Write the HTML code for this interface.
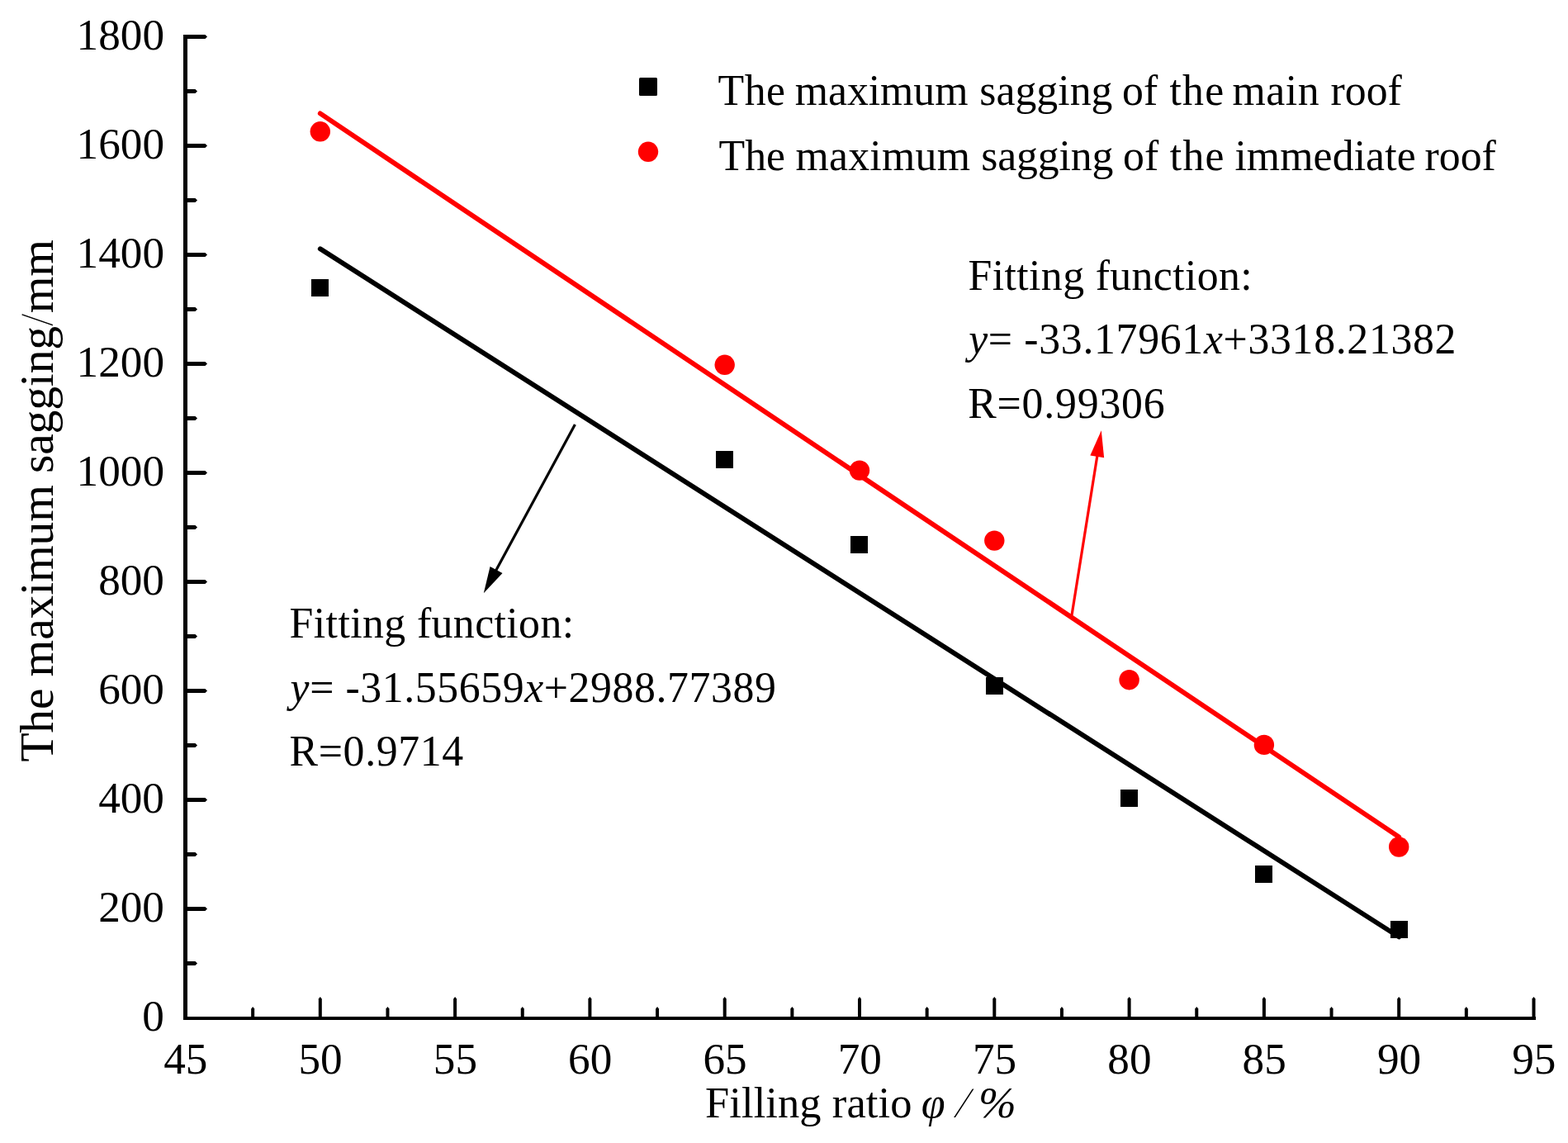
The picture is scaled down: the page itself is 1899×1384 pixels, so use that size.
<!DOCTYPE html>
<html><head><meta charset="utf-8"><title>Filling ratio vs maximum sagging</title><style>
html,body{margin:0;padding:0;background:#fff;width:1899px;height:1384px;overflow:hidden}
svg{display:block}
text{font-family:"Liberation Serif","Times New Roman",serif;fill:#000}
.tk text{font-size:51.8px}
.i{font-style:italic}
.sl{stroke:#fff;stroke-width:1.1px}
</style></head><body>
<svg width="1899" height="1384" viewBox="0 0 1899 1384">
<rect width="1899" height="1384" fill="#fff"/>
<rect x="377" y="338" width="21" height="21" fill="#000"/>
<rect x="867" y="546" width="21" height="21" fill="#000"/>
<rect x="1030" y="649" width="21" height="21" fill="#000"/>
<rect x="1194" y="820" width="21" height="21" fill="#000"/>
<rect x="1357" y="956" width="21" height="21" fill="#000"/>
<rect x="1520" y="1048" width="21" height="21" fill="#000"/>
<rect x="1684" y="1115" width="21" height="21" fill="#000"/>
<circle cx="387.80" cy="159.30" r="12.2" fill="#ff0000"/>
<circle cx="877.70" cy="441.80" r="12.2" fill="#ff0000"/>
<circle cx="1041.00" cy="569.60" r="12.2" fill="#ff0000"/>
<circle cx="1204.30" cy="654.60" r="12.2" fill="#ff0000"/>
<circle cx="1367.60" cy="823.20" r="12.2" fill="#ff0000"/>
<circle cx="1530.90" cy="901.90" r="12.2" fill="#ff0000"/>
<circle cx="1694.20" cy="1025.50" r="12.2" fill="#ff0000"/>
<line x1="387.80" y1="137.41" x2="1694.20" y2="1013.35" stroke="#ff0000" stroke-width="5.9" stroke-linecap="round"/>
<line x1="387.80" y1="301.28" x2="1694.20" y2="1134.37" stroke="#000" stroke-width="5.9" stroke-linecap="round"/>
<line x1="696.40" y1="514.10" x2="600.09" y2="691.82" stroke="#000" stroke-width="3.2"/><polygon points="585.80,718.20 593.57,686.02 608.52,694.12" fill="#000"/>
<line x1="1298.00" y1="745.00" x2="1329.06" y2="550.82" stroke="#ff0000" stroke-width="3.2"/><polygon points="1333.80,521.20 1337.14,554.14 1320.35,551.46" fill="#ff0000"/>
<rect x="222" y="42" width="5" height="1193" fill="#000"/>
<rect x="222" y="1231" width="1638" height="4" fill="#000"/>
<polygon points="227,1164.00 236.5,1164.00 239,1166.50 236.5,1169.00 227,1169.00" fill="#000"/>
<polygon points="227,1098.00 248.5,1098.00 251,1100.50 248.5,1103.00 227,1103.00" fill="#000"/>
<polygon points="227,1032.00 236.5,1032.00 239,1034.50 236.5,1037.00 227,1037.00" fill="#000"/>
<polygon points="227,966.00 248.5,966.00 251,968.50 248.5,971.00 227,971.00" fill="#000"/>
<polygon points="227,900.00 236.5,900.00 239,902.50 236.5,905.00 227,905.00" fill="#000"/>
<polygon points="227,834.00 248.5,834.00 251,836.50 248.5,839.00 227,839.00" fill="#000"/>
<polygon points="227,768.00 236.5,768.00 239,770.50 236.5,773.00 227,773.00" fill="#000"/>
<polygon points="227,702.00 248.5,702.00 251,704.50 248.5,707.00 227,707.00" fill="#000"/>
<polygon points="227,636.00 236.5,636.00 239,638.50 236.5,641.00 227,641.00" fill="#000"/>
<polygon points="227,570.00 248.5,570.00 251,572.50 248.5,575.00 227,575.00" fill="#000"/>
<polygon points="227,504.00 236.5,504.00 239,506.50 236.5,509.00 227,509.00" fill="#000"/>
<polygon points="227,438.00 248.5,438.00 251,440.50 248.5,443.00 227,443.00" fill="#000"/>
<polygon points="227,372.00 236.5,372.00 239,374.50 236.5,377.00 227,377.00" fill="#000"/>
<polygon points="227,306.00 248.5,306.00 251,308.50 248.5,311.00 227,311.00" fill="#000"/>
<polygon points="227,240.00 236.5,240.00 239,242.50 236.5,245.00 227,245.00" fill="#000"/>
<polygon points="227,174.00 248.5,174.00 251,176.50 248.5,179.00 227,179.00" fill="#000"/>
<polygon points="227,108.00 236.5,108.00 239,110.50 236.5,113.00 227,113.00" fill="#000"/>
<polygon points="227,42.00 248.5,42.00 251,44.50 248.5,47.00 227,47.00" fill="#000"/>
<polygon points="304.15,1231 304.15,1221.5 306.15,1219 308.15,1221.5 308.15,1231" fill="#000"/>
<polygon points="385.80,1231 385.80,1209.5 387.80,1207 389.80,1209.5 389.80,1231" fill="#000"/>
<polygon points="467.45,1231 467.45,1221.5 469.45,1219 471.45,1221.5 471.45,1231" fill="#000"/>
<polygon points="549.10,1231 549.10,1209.5 551.10,1207 553.10,1209.5 553.10,1231" fill="#000"/>
<polygon points="630.75,1231 630.75,1221.5 632.75,1219 634.75,1221.5 634.75,1231" fill="#000"/>
<polygon points="712.40,1231 712.40,1209.5 714.40,1207 716.40,1209.5 716.40,1231" fill="#000"/>
<polygon points="794.05,1231 794.05,1221.5 796.05,1219 798.05,1221.5 798.05,1231" fill="#000"/>
<polygon points="875.70,1231 875.70,1209.5 877.70,1207 879.70,1209.5 879.70,1231" fill="#000"/>
<polygon points="957.35,1231 957.35,1221.5 959.35,1219 961.35,1221.5 961.35,1231" fill="#000"/>
<polygon points="1039.00,1231 1039.00,1209.5 1041.00,1207 1043.00,1209.5 1043.00,1231" fill="#000"/>
<polygon points="1120.65,1231 1120.65,1221.5 1122.65,1219 1124.65,1221.5 1124.65,1231" fill="#000"/>
<polygon points="1202.30,1231 1202.30,1209.5 1204.30,1207 1206.30,1209.5 1206.30,1231" fill="#000"/>
<polygon points="1283.95,1231 1283.95,1221.5 1285.95,1219 1287.95,1221.5 1287.95,1231" fill="#000"/>
<polygon points="1365.60,1231 1365.60,1209.5 1367.60,1207 1369.60,1209.5 1369.60,1231" fill="#000"/>
<polygon points="1447.25,1231 1447.25,1221.5 1449.25,1219 1451.25,1221.5 1451.25,1231" fill="#000"/>
<polygon points="1528.90,1231 1528.90,1209.5 1530.90,1207 1532.90,1209.5 1532.90,1231" fill="#000"/>
<polygon points="1610.55,1231 1610.55,1221.5 1612.55,1219 1614.55,1221.5 1614.55,1231" fill="#000"/>
<polygon points="1692.20,1231 1692.20,1209.5 1694.20,1207 1696.20,1209.5 1696.20,1231" fill="#000"/>
<polygon points="1773.85,1231 1773.85,1221.5 1775.85,1219 1777.85,1221.5 1777.85,1231" fill="#000"/>
<polygon points="1855.50,1231 1855.50,1209.5 1857.50,1207 1859.50,1209.5 1859.50,1231" fill="#000"/>
<g class="tk">
<text transform="translate(199,1248.10) scale(1.028,1)" text-anchor="end">0</text>
<text transform="translate(199,1116.10) scale(1.028,1)" text-anchor="end">200</text>
<text transform="translate(199,984.10) scale(1.028,1)" text-anchor="end">400</text>
<text transform="translate(199,852.10) scale(1.028,1)" text-anchor="end">600</text>
<text transform="translate(199,720.10) scale(1.028,1)" text-anchor="end">800</text>
<text transform="translate(199,588.10) scale(1.028,1)" text-anchor="end">1000</text>
<text transform="translate(199,456.10) scale(1.028,1)" text-anchor="end">1200</text>
<text transform="translate(199,324.10) scale(1.028,1)" text-anchor="end">1400</text>
<text transform="translate(199,192.10) scale(1.028,1)" text-anchor="end">1600</text>
<text transform="translate(199,60.10) scale(1.028,1)" text-anchor="end">1800</text>
<text transform="translate(224.80,1300) scale(1.028,1)" text-anchor="middle">45</text>
<text transform="translate(388.10,1300) scale(1.028,1)" text-anchor="middle">50</text>
<text transform="translate(551.40,1300) scale(1.028,1)" text-anchor="middle">55</text>
<text transform="translate(714.70,1300) scale(1.028,1)" text-anchor="middle">60</text>
<text transform="translate(878.00,1300) scale(1.028,1)" text-anchor="middle">65</text>
<text transform="translate(1041.30,1300) scale(1.028,1)" text-anchor="middle">70</text>
<text transform="translate(1204.60,1300) scale(1.028,1)" text-anchor="middle">75</text>
<text transform="translate(1367.90,1300) scale(1.028,1)" text-anchor="middle">80</text>
<text transform="translate(1531.20,1300) scale(1.028,1)" text-anchor="middle">85</text>
<text transform="translate(1694.50,1300) scale(1.028,1)" text-anchor="middle">90</text>
<text transform="translate(1857.80,1300) scale(1.028,1)" text-anchor="middle">95</text>
</g>
<rect x="774" y="94" width="22" height="22" rx="1.5" fill="#000"/>
<circle cx="785" cy="183.8" r="12.2" fill="#ff0000"/>
<text id="l1w0" style="font-size:51.8px" textLength="81.33" lengthAdjust="spacing" x="869.60" y="127.00">The</text>
<text id="l1w1" style="font-size:51.8px" textLength="209.65" lengthAdjust="spacing" x="962.80" y="127.00">maximum</text>
<text id="l1w2" style="font-size:51.8px" textLength="161.14" lengthAdjust="spacing" x="1186.30" y="127.00">sagging</text>
<text id="l1w3" style="font-size:51.8px" x="1359.10" y="127.00">of</text>
<text id="l1w4" style="font-size:51.8px" textLength="65.88" lengthAdjust="spacing" x="1416.40" y="127.00">the</text>
<text id="l1w5" style="font-size:51.8px" textLength="105.18" lengthAdjust="spacing" x="1492.50" y="127.00">main</text>
<text id="l1w6" style="font-size:51.8px" x="1611.50" y="127.00">roof</text>
<text id="l2w0" style="font-size:51.8px" textLength="80.53" lengthAdjust="spacing" x="870.50" y="206.30">The</text>
<text id="l2w1" style="font-size:51.8px" textLength="211.45" lengthAdjust="spacing" x="963.50" y="206.30">maximum</text>
<text id="l2w2" style="font-size:51.8px" textLength="160.14" lengthAdjust="spacing" x="1188.20" y="206.30">sagging</text>
<text id="l2w3" style="font-size:51.8px" x="1360.00" y="206.30">of</text>
<text id="l2w4" style="font-size:51.8px" textLength="65.88" lengthAdjust="spacing" x="1416.70" y="206.30">the</text>
<text id="l2w5" style="font-size:51.8px" textLength="219.23" lengthAdjust="spacing" x="1495.40" y="206.30">immediate</text>
<text id="l2w6" style="font-size:51.8px" x="1725.50" y="206.30">roof</text>
<text id="fA1" style="font-size:51.8px" textLength="344.12" lengthAdjust="spacing" x="1172.60" y="351.00">Fitting function:</text>
<text id="fA2" style="font-size:51.8px" textLength="590.31" lengthAdjust="spacing" x="1173.20" y="427.50"><tspan class="i">y</tspan>= -33.17961<tspan class="i">x</tspan>+3318.21382</text>
<text id="fA3" style="font-size:51.8px" textLength="238.51" lengthAdjust="spacing" x="1172.20" y="505.50">R=0.99306</text>
<text id="fB1" style="font-size:51.8px" textLength="344.52" lengthAdjust="spacing" x="350.60" y="771.70">Fitting function:</text>
<text id="fB2" style="font-size:51.8px" textLength="588.31" lengthAdjust="spacing" x="351.60" y="849.50"><tspan class="i">y</tspan>= -31.55659<tspan class="i">x</tspan>+2988.77389</text>
<text id="fB3" style="font-size:51.8px" textLength="210.60" lengthAdjust="spacing" x="350.60" y="927.00">R=0.9714</text>
<text id="xt1" style="font-size:52.5px" textLength="250.38" lengthAdjust="spacing" x="854.00" y="1353.00">Filling ratio</text>
<text id="xt2" style="font-size:52.5px" textLength="28.85" lengthAdjust="spacingAndGlyphs" x="1115.80" y="1353.00"><tspan class="i">φ</tspan></text>
<text id="xt3" style="font-size:52.5px" textLength="18.59" lengthAdjust="spacingAndGlyphs" x="1157.00" y="1353.00"><tspan class="i sl">/</tspan></text>
<text id="xt4" style="font-size:52.5px" textLength="45.73" lengthAdjust="spacingAndGlyphs" x="1185.00" y="1353.00"><tspan class="i">%</tspan></text>
<text id="yt" style="font-size:57.5px" textLength="632.62" lengthAdjust="spacing" transform="translate(64.00,922.60) rotate(-90)">The maximum sagging<tspan class="sl">/</tspan>mm</text>
</svg>
</body></html>
